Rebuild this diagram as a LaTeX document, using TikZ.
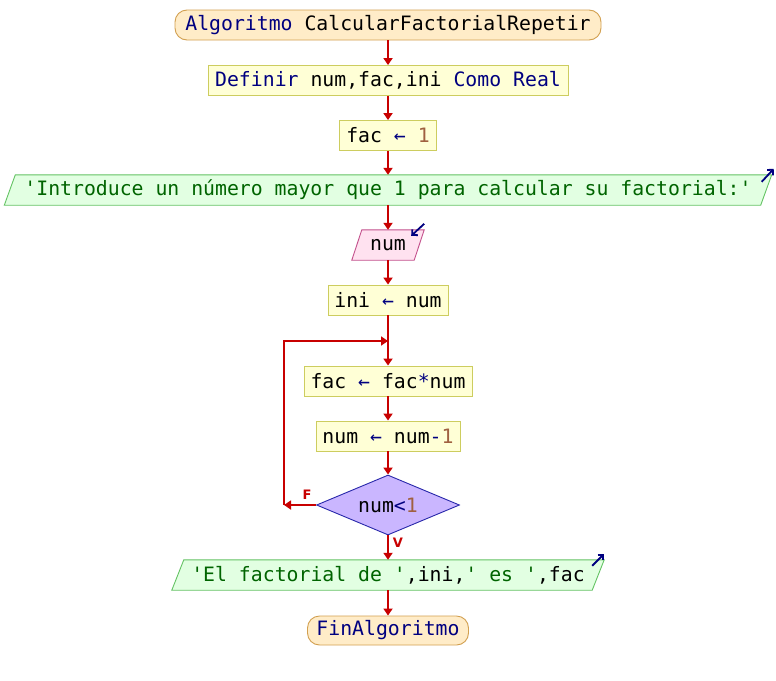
\documentclass[tikz,border=0pt]{standalone}
\usepackage{fontspec}
\setmonofont{DejaVu Sans Mono}
\setsansfont{DejaVu Sans}
\usetikzlibrary{arrows.meta,shapes.geometric}
\pgfdeclarelayer{bg}
\pgfsetlayers{bg,main}
\definecolor{kw}{RGB}{0,0,128}
\definecolor{strc}{RGB}{0,100,0}
\definecolor{numc}{RGB}{160,96,64}
\definecolor{termf}{RGB}{255,236,200}
\definecolor{termb}{RGB}{210,160,80}
\definecolor{procf}{RGB}{255,255,214}
\definecolor{procb}{RGB}{205,205,95}
\definecolor{outf}{RGB}{226,255,226}
\definecolor{outb}{RGB}{100,195,100}
\definecolor{inf}{RGB}{255,226,240}
\definecolor{inb}{RGB}{195,80,140}
\definecolor{decf}{RGB}{202,182,255}
\definecolor{decb}{RGB}{40,40,170}
\definecolor{flow}{RGB}{200,0,0}
\begin{document}
\begin{tikzpicture}[x=1pt,y=-1pt,
  every node/.style={font=\ttfamily\fontsize{19.8}{24}\selectfont, inner sep=0pt},
  term/.style={draw=termb, fill=termf, rounded corners=12pt, line width=0.9pt, minimum height=30pt},
  proc/.style={draw=procb, fill=procf, line width=0.9pt, minimum height=30pt},
  iobox/.style={minimum height=30pt},
  outshape/.style={draw=outb, fill=outf, line width=0.9pt},
  inshape/.style={draw=inb, fill=inf, line width=0.9pt},
  dec/.style={diamond, aspect=2.4, draw=decb, fill=decf, line width=0.9pt, minimum width=143pt, minimum height=60pt},
  arr/.style={draw=flow, line width=2pt, -{Triangle[length=7pt,width=9pt]}},
  plain/.style={draw=flow, line width=2pt},
  icon/.style={draw=kw, line width=1.8pt, -{Straight Barb[length=4pt,width=8pt]}},
  lbl/.style={text=flow, font=\sffamily\bfseries\fontsize{13}{15}\selectfont}
]
\begin{pgfonlayer}{bg}
\fill[white] (0,0) rectangle (776,680);
\end{pgfonlayer}
\useasboundingbox (0,0) rectangle (776,680);

\node[term, minimum width=426pt] (start) at (388,25) {\textcolor{kw}{Algoritmo} CalcularFactorialRepetir};
\node[proc, minimum width=360pt] (def) at (388,80.5) {\textcolor{kw}{Definir} num,fac,ini \textcolor{kw}{Como Real}};
\node[proc, minimum width=97pt] (fac1) at (388,135.5) {fac \textcolor{kw}{←} \textcolor{numc}{1}};
\node[iobox, minimum width=767pt] (out1) at (388,190) {\textcolor{strc}{'Introduce un número mayor que 1 para calcular su factorial:'}};
\node[iobox, minimum width=72pt] (in1) at (388,245) {num};
\node[proc, minimum width=120pt] (ini) at (388,300) {ini \textcolor{kw}{←} num};
\node[proc, minimum width=168pt] (ffn) at (388,381) {fac \textcolor{kw}{←} fac\textcolor{kw}{*}num};
\node[proc, minimum width=144pt] (nm1) at (388,436) {num \textcolor{kw}{←} num\textcolor{kw}{-}\textcolor{numc}{1}};
\node[dec] (dia) at (388,505) {num\textcolor{kw}{<}\textcolor{numc}{1}};
\node[iobox, minimum width=432pt] (out2) at (388,575) {\textcolor{strc}{'El factorial de '},ini,\textcolor{strc}{' es '},fac};
\node[term, minimum width=161pt, minimum height=29pt] (fin) at (388,630.5) {\textcolor{kw}{FinAlgoritmo}};

\node[lbl] (fl) at (307,495) {F};
\node[lbl] (vl) at (398,543) {V};

\begin{pgfonlayer}{bg}
\draw[outshape] ([xshift=11pt]out1.north west) -- (out1.north east) -- ([xshift=-11pt]out1.south east) -- (out1.south west) -- cycle;
\draw[inshape] ([xshift=10pt]in1.north west) -- (in1.north east) -- ([xshift=-10pt]in1.south east) -- (in1.south west) -- cycle;
\draw[outshape] ([xshift=12pt]out2.north west) -- (out2.north east) -- ([xshift=-12pt]out2.south east) -- (out2.south west) -- cycle;
\end{pgfonlayer}

\coordinate (lb) at (284,505);
\coordinate (lt) at (284,341);
\coordinate (jn) at (388,341);

\draw[arr] (start) -- (def);
\draw[arr] (def) -- (fac1);
\draw[arr] (fac1) -- (out1);
\draw[arr] (out1) -- (in1);
\draw[arr] (in1) -- (ini);
\draw[arr] (ini) -- (ffn);
\draw[arr] (ffn) -- (nm1);
\draw[arr] (nm1) -- (dia);
\draw[arr] (dia.west) -- (lb);
\draw[plain] (lb) -- (lt) -- ([xshift=-7pt]jn);
\draw[arr] (lt) -- (jn);
\draw[arr] (dia.south) -- (out2.north);
\draw[arr] (out2) -- (fin);

\draw[icon] ([shift={(-10,7)}]out1.north east) -- ([shift={(2,-6)}]out1.north east);
\draw[icon] ([shift={(0,-6)}]in1.north east) -- ([shift={(-13,6)}]in1.north east);
\draw[icon] ([shift={(-12,6)}]out2.north east) -- ([shift={(0,-6)}]out2.north east);
\end{tikzpicture}
\end{document}
